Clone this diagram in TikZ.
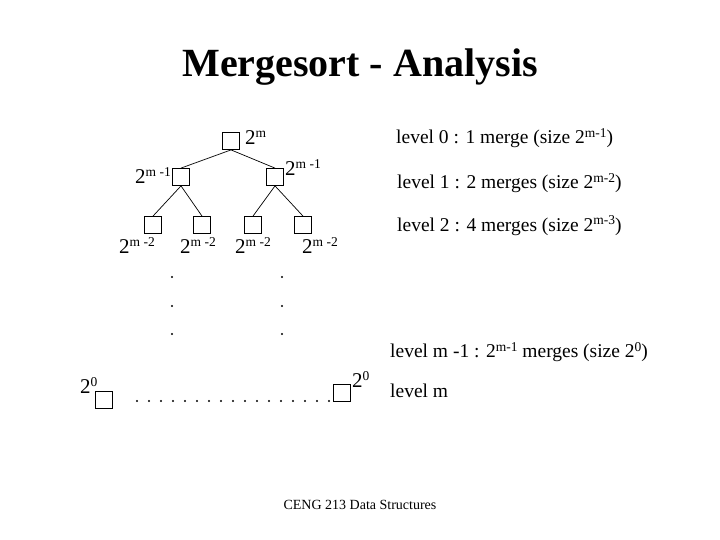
\documentclass[tikz,border=0pt]{standalone}
\usepackage{fontspec}
\setmainfont{Liberation Serif}
\newcommand\pwr[2]{{\fontsize{21}{21}\selectfont #1}\raisebox{7pt}{\fontsize{13.5}{13.5}\selectfont #2}}
\newcommand\lsup[1]{\raisebox{6pt}{\fontsize{13.5}{13.5}\selectfont #1}}
\begin{document}
\begin{tikzpicture}[x=1pt,y=-1pt,
  bx/.style={draw,line width=0.8pt,minimum size=17pt,inner sep=0pt},
  lbl/.style={anchor=base west,inner sep=0pt},
  lvl/.style={anchor=base west,inner sep=0pt,font=\fontsize{19.5}{19.5}\selectfont},
  edge/.style={line width=0.7pt}]
\useasboundingbox (0,0) rectangle (720,540);
% title
\node[inner sep=0pt,anchor=base] (title) at (360,77) {\fontsize{40}{40}\selectfont\bfseries Mergesort - Analysis};
% tree
\node[bx] (r) at (231,141) {};
\node[bx] (a) at (181,177) {};
\node[bx] (b) at (275,177) {};
\node[bx] (a1) at (153,225) {};
\node[bx] (a2) at (202,225) {};
\node[bx] (b1) at (253,225) {};
\node[bx] (b2) at (303,225) {};
\draw[edge] (r.south) -- (a.north);
\draw[edge] (r.south) -- (b.north);
\draw[edge] (a.south) -- (a1.north);
\draw[edge] (a.south) -- (a2.north);
\draw[edge] (b.south) -- (b1.north);
\draw[edge] (b.south) -- (b2.north);
% labels
\node[lbl] (lr) at (245,145) {\pwr{2}{m}};
\node[lbl] (la) at (135,184) {\pwr{2}{m -1}};
\node[lbl] (lb) at (285,176) {\pwr{2}{m -1}};
\node[lbl] (la1) at (119,253) {\pwr{2}{m -2}};
\node[lbl] (la2) at (180,253) {\pwr{2}{m -2}};
\node[lbl] (lb1) at (235,253) {\pwr{2}{m -2}};
\node[lbl] (lb2) at (302,253) {\pwr{2}{m -2}};
% vertical dots
\foreach \y in {277,306,334} {
  \fill (172,\y) circle (1.1);
  \fill (282,\y) circle (1.1);
}
% bottom row
\node[bx] (z1) at (103.5,399.5) {};
\node[lbl] (lz1) at (80,393) {\pwr{2}{0}};
\node[bx] (z2) at (341.5,393) {};
\node[lbl] (lz2) at (352,387) {\pwr{2}{0}};
\foreach \i in {0,...,16} {
  \fill (137+12*\i,401) circle (1.1);
}
% level text
\node[lvl] (t0) at (396,144) {level 0 : 1 merge (size 2\lsup{m-1})};
\node[lvl] (t1) at (397,189) {level 1 : 2 merges (size 2\lsup{m-2})};
\node[lvl] (t2) at (397,231) {level 2 : 4 merges (size 2\lsup{m-3})};
\node[lvl] (t3) at (390,357) {level m -1 : 2\lsup{m-1} merges (size 2\lsup{0})};
\node[lvl] (t4) at (390,397) {level m};
% footer
\node[anchor=base,inner sep=0pt] (foot) at (360,509) {\fontsize{14}{14}\selectfont CENG 213 Data Structures};
\end{tikzpicture}
\end{document}
